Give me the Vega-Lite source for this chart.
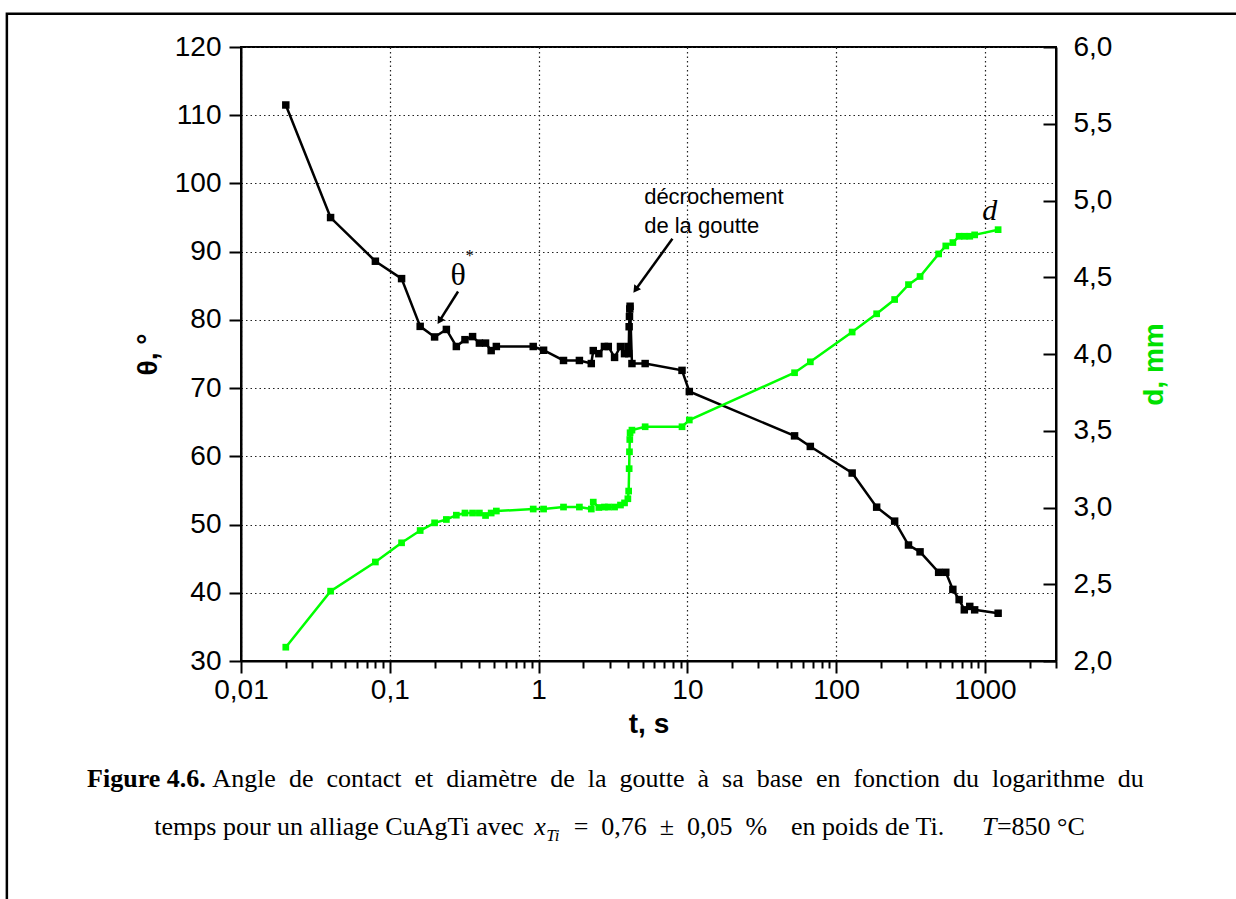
{
  "$schema": "https://vega.github.io/schema/vega-lite/v6.json",
  "width": 815,
  "height": 614,
  "autosize": "none",
  "padding": {"left": 241, "top": 47, "right": 180, "bottom": 238},
  "background": "white",
  "config": {"view": {"stroke": "black", "strokeWidth": 2}, "font": "Liberation Sans"},
  "datasets": {
    "pts": [
      {"t": 0.02, "theta": 111.5, "d": 2.09},
      {"t": 0.04, "theta": 95.0, "d": 2.455},
      {"t": 0.08, "theta": 88.6, "d": 2.645},
      {"t": 0.12, "theta": 86.05, "d": 2.77},
      {"t": 0.16, "theta": 79.05, "d": 2.85},
      {"t": 0.2, "theta": 77.5, "d": 2.9},
      {"t": 0.24, "theta": 78.6, "d": 2.922},
      {"t": 0.28, "theta": 76.1, "d": 2.95},
      {"t": 0.32, "theta": 77.1, "d": 2.964},
      {"t": 0.36, "theta": 77.55, "d": 2.964},
      {"t": 0.4, "theta": 76.6, "d": 2.964},
      {"t": 0.44, "theta": 76.6, "d": 2.948},
      {"t": 0.48, "theta": 75.5, "d": 2.964},
      {"t": 0.52, "theta": 76.1, "d": 2.977},
      {"t": 0.92, "theta": 76.1, "d": 2.99},
      {"t": 1.08, "theta": 75.55, "d": 2.99},
      {"t": 1.47, "theta": 74.05, "d": 3.003},
      {"t": 1.88, "theta": 74.05, "d": 3.003},
      {"t": 2.26, "theta": 73.6, "d": 2.99},
      {"t": 2.33, "theta": 75.5, "d": 3.035},
      {"t": 2.54, "theta": 75.05, "d": 3.0},
      {"t": 2.77, "theta": 76.1, "d": 3.003},
      {"t": 2.94, "theta": 76.1, "d": 3.003},
      {"t": 3.24, "theta": 74.5, "d": 3.003},
      {"t": 3.55, "theta": 76.1, "d": 3.016},
      {"t": 3.78, "theta": 75.05, "d": 3.03},
      {"t": 3.98, "theta": 76.1, "d": 3.057},
      {"t": 4.03, "theta": 75.05, "d": 3.107},
      {"t": 4.06, "theta": 79.0, "d": 3.253},
      {"t": 4.08, "theta": 80.5, "d": 3.363},
      {"t": 4.1, "theta": 81.6, "d": 3.443},
      {"t": 4.12, "theta": 82.0, "d": 3.487},
      {"t": 4.24, "theta": 73.6, "d": 3.504},
      {"t": 5.2, "theta": 73.6, "d": 3.526},
      {"t": 9.2, "theta": 72.6, "d": 3.526},
      {"t": 10.3, "theta": 69.5, "d": 3.57},
      {"t": 52.5, "theta": 63.0, "d": 3.878},
      {"t": 67, "theta": 61.45, "d": 3.949},
      {"t": 128, "theta": 57.55, "d": 4.143},
      {"t": 187, "theta": 52.55, "d": 4.262},
      {"t": 247, "theta": 50.5, "d": 4.355},
      {"t": 306, "theta": 47.0, "d": 4.452},
      {"t": 366, "theta": 46.0, "d": 4.505},
      {"t": 488, "theta": 43.0, "d": 4.652},
      {"t": 545, "theta": 43.0, "d": 4.704},
      {"t": 608, "theta": 40.5, "d": 4.726},
      {"t": 670, "theta": 39.0, "d": 4.767},
      {"t": 726, "theta": 37.5, "d": 4.767},
      {"t": 790, "theta": 38.0, "d": 4.767},
      {"t": 852, "theta": 37.5, "d": 4.776},
      {"t": 1225, "theta": 37.0, "d": 4.81}
    ]
  },
  "layer": [
    {
      "layer": [
        {
          "data": {"name": "pts"},
          "mark": {"type": "line", "color": "black", "strokeWidth": 2.5},
          "encoding": {
            "x": {
              "field": "t", "type": "quantitative",
              "scale": {"type": "log", "domain": [0.01, 3000], "nice": false},
              "axis": {
                "values": [0.01,0.02,0.03,0.04,0.05,0.06,0.07,0.08,0.09,0.1,0.2,0.3,0.4,0.5,0.6,0.7,0.8,0.9,1,2,3,4,5,6,7,8,9,10,20,30,40,50,60,70,80,90,100,200,300,400,500,600,700,800,900,1000,2000,3000],
                "labelExpr": "abs(log(datum.value)/LN10 - round(log(datum.value)/LN10)) < 0.001 ? replace(toString(datum.value), '.', ',') : ''",
                "title": "t, s",
                "titleFont": "Liberation Sans", "titleFontSize": 28, "titleFontWeight": "bold", "titleColor": "black", "titlePadding": 6,
                "labelFont": "Liberation Sans", "labelFontSize": 28, "labelColor": "black", "labelPadding": 3,
                "labelOverlap": false, "labelFlush": false, "labelBound": false,
                "tickSize": {"condition": {"test": "abs(log(datum.value)/LN10 - round(log(datum.value)/LN10)) < 0.001", "value": 12}, "value": 7},
                "tickWidth": 2, "tickColor": "black",
                "domainColor": "black", "domainWidth": 2,
                "grid": true,
                "gridOpacity": {"condition": {"test": "abs(log(datum.value)/LN10 - round(log(datum.value)/LN10)) < 0.001", "value": 1}, "value": 0},
                "gridColor": "#222", "gridDash": [1.5, 3], "gridWidth": 1.2
              }
            },
            "y": {
              "field": "theta", "type": "quantitative",
              "scale": {"domain": [30, 120], "nice": false, "zero": false},
              "axis": {
                "values": [30,35,40,45,50,55,60,65,70,75,80,85,90,95,100,105,110,115,120],
                "labelExpr": "datum.value % 10 == 0 ? toString(datum.value) : ''",
                "title": "θ, °",
                "titleFont": "Liberation Sans", "titleFontSize": 28, "titleFontWeight": "bold", "titleColor": "black", "titlePadding": 12,
                "labelFont": "Liberation Sans", "labelFontSize": 28, "labelColor": "black", "labelPadding": 8,
                "labelOverlap": false, "labelFlush": false, "labelBound": false,
                "tickSize": {"condition": {"test": "datum.value % 10 == 0", "value": 12}, "value": 6},
                "tickWidth": 2, "tickColor": "black",
                "domainColor": "black", "domainWidth": 2,
                "grid": true, "gridColor": "#222", "gridDash": [1.5, 3], "gridWidth": 1.2
              }
            }
          }
        },
        {
          "data": {"name": "pts"},
          "mark": {"type": "point", "shape": "square", "filled": true, "color": "black", "size": 56, "opacity": 1},
          "encoding": {
            "x": {"field": "t", "type": "quantitative"},
            "y": {"field": "theta", "type": "quantitative"}
          }
        },
        {
          "data": {"values": [{}]},
          "mark": {"type": "rect", "fill": null, "stroke": "black", "strokeWidth": 2.5},
          "encoding": {
            "x": {"datum": 0.000267, "type": "quantitative"},
            "x2": {"datum": 57800},
            "y": {"datum": 124.88, "type": "quantitative"},
            "y2": {"datum": -5.63}
          }
        },
        {
          "data": {"values": [{}]},
          "mark": {"type": "rule", "color": "black", "strokeWidth": 2.5},
          "encoding": {
            "x": {"datum": 0.2876, "type": "quantitative"},
            "x2": {"datum": 0.2158},
            "y": {"datum": 84.16, "type": "quantitative"},
            "y2": {"datum": 79.85}
          }
        },
        {
          "data": {"values": [{}]},
          "mark": {"type": "point", "shape": "triangle-up", "filled": true, "color": "black", "size": 70, "angle": 212, "opacity": 1},
          "encoding": {
            "x": {"datum": 0.2158, "type": "quantitative"},
            "y": {"datum": 79.85, "type": "quantitative"}
          }
        },
        {
          "data": {"values": [{}]},
          "mark": {"type": "rule", "color": "black", "strokeWidth": 2.5},
          "encoding": {
            "x": {"datum": 7.93, "type": "quantitative"},
            "x2": {"datum": 4.48},
            "y": {"datum": 91.89, "type": "quantitative"},
            "y2": {"datum": 84.42}
          }
        },
        {
          "data": {"values": [{}]},
          "mark": {"type": "point", "shape": "triangle-up", "filled": true, "color": "black", "size": 70, "angle": 216, "opacity": 1},
          "encoding": {
            "x": {"datum": 4.48, "type": "quantitative"},
            "y": {"datum": 84.42, "type": "quantitative"}
          }
        },
        {
          "data": {"values": [{}]},
          "mark": {"type": "text", "text": "θ", "font": "Liberation Serif", "fontSize": 32, "align": "center", "baseline": "middle", "color": "black"},
          "encoding": {
            "x": {"datum": 0.2876, "type": "quantitative"},
            "y": {"datum": 86.6, "type": "quantitative"}
          }
        },
        {
          "data": {"values": [{}]},
          "mark": {"type": "text", "text": "*", "font": "Liberation Serif", "fontSize": 16, "align": "center", "baseline": "middle", "color": "black"},
          "encoding": {
            "x": {"datum": 0.345, "type": "quantitative"},
            "y": {"datum": 89.3, "type": "quantitative"}
          }
        },
        {
          "data": {"values": [{}]},
          "mark": {"type": "text", "text": "décrochement", "font": "Liberation Sans", "fontSize": 22, "align": "left", "baseline": "middle", "color": "black"},
          "encoding": {
            "x": {"datum": 5.12, "type": "quantitative"},
            "y": {"datum": 98.07, "type": "quantitative"}
          }
        },
        {
          "data": {"values": [{}]},
          "mark": {"type": "text", "text": "de la goutte", "font": "Liberation Sans", "fontSize": 22, "align": "left", "baseline": "middle", "color": "black"},
          "encoding": {
            "x": {"datum": 5.12, "type": "quantitative"},
            "y": {"datum": 93.74, "type": "quantitative"}
          }
        },
        {
          "data": {"values": [{}]},
          "mark": {"type": "text", "text": "d", "font": "Liberation Serif", "fontStyle": "italic", "fontSize": 30, "align": "center", "baseline": "middle", "color": "black"},
          "encoding": {
            "x": {"datum": 1076, "type": "quantitative"},
            "y": {"datum": 95.9, "type": "quantitative"}
          }
        },
        {
          "data": {"values": [{}]},
          "mark": {"type": "text", "text": "Figure 4.6.", "font": "Liberation Serif", "fontWeight": "bold", "fontSize": 26, "align": "left", "baseline": "middle", "color": "black"},
          "encoding": {
            "x": {"datum": 0.000924, "type": "quantitative"},
            "y": {"datum": 12.68, "type": "quantitative"}
          }
        },
        {
          "data": {"values": [{}]},
          "mark": {"type": "text", "text": "Angle \u00a0de \u00a0contact \u00a0et \u00a0diamètre \u00a0de \u00a0la \u00a0goutte \u00a0à \u00a0sa \u00a0base \u00a0en \u00a0fonction \u00a0du \u00a0logarithme \u00a0du", "font": "Liberation Serif", "fontSize": 26, "align": "left", "baseline": "middle", "color": "black"},
          "encoding": {
            "x": {"datum": 0.00642, "type": "quantitative"},
            "y": {"datum": 12.68, "type": "quantitative"}
          }
        },
        {
          "data": {"values": [{}]},
          "mark": {"type": "text", "text": "temps pour un alliage CuAgTi avec", "font": "Liberation Serif", "fontSize": 26, "align": "left", "baseline": "middle", "color": "black"},
          "encoding": {
            "x": {"datum": 0.002613, "type": "quantitative"},
            "y": {"datum": 5.65, "type": "quantitative"}
          }
        },
        {
          "data": {"values": [{}]},
          "mark": {"type": "text", "text": "x", "font": "Liberation Serif", "fontStyle": "italic", "fontSize": 26, "align": "left", "baseline": "middle", "color": "black"},
          "encoding": {
            "x": {"datum": 0.9355, "type": "quantitative"},
            "y": {"datum": 5.65, "type": "quantitative"}
          }
        },
        {
          "data": {"values": [{}]},
          "mark": {"type": "text", "text": "Ti", "font": "Liberation Serif", "fontStyle": "italic", "fontSize": 17, "align": "left", "baseline": "middle", "color": "black"},
          "encoding": {
            "x": {"datum": 1.127, "type": "quantitative"},
            "y": {"datum": 4.3, "type": "quantitative"}
          }
        },
        {
          "data": {"values": [{}]},
          "mark": {"type": "text", "text": "=\u00a0 0,76 \u00a0±\u00a0 0,05 \u00a0%", "font": "Liberation Serif", "fontSize": 26, "align": "left", "baseline": "middle", "color": "black"},
          "encoding": {
            "x": {"datum": 1.72, "type": "quantitative"},
            "y": {"datum": 5.65, "type": "quantitative"}
          }
        },
        {
          "data": {"values": [{}]},
          "mark": {"type": "text", "text": "en poids de Ti.", "font": "Liberation Serif", "fontSize": 26, "align": "left", "baseline": "middle", "color": "black"},
          "encoding": {
            "x": {"datum": 49.7, "type": "quantitative"},
            "y": {"datum": 5.65, "type": "quantitative"}
          }
        },
        {
          "data": {"values": [{}]},
          "mark": {"type": "text", "text": "T", "font": "Liberation Serif", "fontStyle": "italic", "fontSize": 26, "align": "right", "baseline": "middle", "color": "black"},
          "encoding": {
            "x": {"datum": 1195, "type": "quantitative"},
            "y": {"datum": 5.65, "type": "quantitative"}
          }
        },
        {
          "data": {"values": [{}]},
          "mark": {"type": "text", "text": "=850 °C", "font": "Liberation Serif", "fontSize": 26, "align": "right", "baseline": "middle", "color": "black"},
          "encoding": {
            "x": {"datum": 4684, "type": "quantitative"},
            "y": {"datum": 5.65, "type": "quantitative"}
          }
        }
      ]
    },
    {
      "layer": [
        {
          "data": {"name": "pts"},
          "mark": {"type": "line", "color": "#00ff00", "strokeWidth": 2.5},
          "encoding": {
            "x": {"field": "t", "type": "quantitative"},
            "y": {
              "field": "d", "type": "quantitative",
              "scale": {"domain": [2, 6], "nice": false, "zero": false},
              "axis": {
                "orient": "right",
                "values": [2,2.25,2.5,2.75,3,3.25,3.5,3.75,4,4.25,4.5,4.75,5,5.25,5.5,5.75,6],
                "labelExpr": "abs(datum.value*2 - round(datum.value*2)) < 0.001 ? replace(format(datum.value, '.1f'), '.', ',') : ''",
                "title": "d, mm",
                "titleAngle": 270,
                "titleY": 317,
                "titleFont": "Liberation Sans", "titleFontSize": 28, "titleFontWeight": "bold", "titleColor": "#00e000", "titlePadding": 57,
                "labelFont": "Liberation Sans", "labelFontSize": 28, "labelColor": "black", "labelPadding": 30,
                "labelOverlap": false, "labelFlush": false, "labelBound": false,
                "tickSize": {"condition": {"test": "abs(datum.value*2 - round(datum.value*2)) < 0.001", "value": -13}, "value": -7},
                "tickWidth": 2, "tickColor": "black",
                "domainColor": "black", "domainWidth": 2,
                "grid": false
              }
            }
          }
        },
        {
          "data": {"name": "pts"},
          "mark": {"type": "point", "shape": "square", "filled": true, "color": "#00ff00", "size": 45, "opacity": 1},
          "encoding": {
            "x": {"field": "t", "type": "quantitative"},
            "y": {"field": "d", "type": "quantitative"}
          }
        }
      ]
    }
  ],
  "resolve": {"scale": {"y": "independent"}}
}
